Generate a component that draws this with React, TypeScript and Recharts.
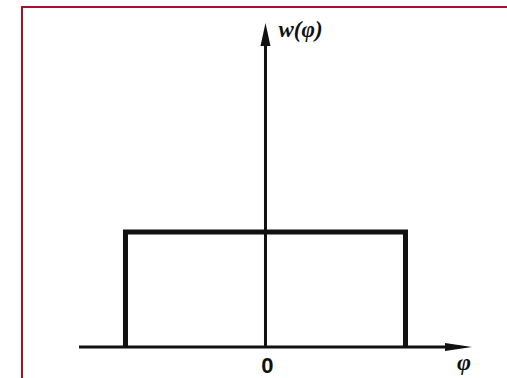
import { LineChart, Line, XAxis, YAxis, ReferenceLine } from 'recharts';

// Uniform density w(φ): rectangle over [-1, 1]
const phiPoints = [-1, -1, 1, 1];
const wPoints = [0, 1, 1, 0];
const xTicks = [0];
const xDomain: [number, number] = [-1.332, 1.475];
const yDomain: [number, number] = [0, 2.817];

const data = phiPoints.map((phi, i) => ({ phi, w: wPoints[i] }));

const INK = '#111';
const LABEL_FONT = '"Liberation Serif", "DejaVu Serif", serif';

function HorizontalAxis(p: any) {
  const left = Math.min(p.x1, p.x2);
  const right = Math.max(p.x1, p.x2);
  const y = p.y1;
  return (
    <g>
      <line x1={left} y1={y} x2={right - 12} y2={y} stroke={INK} strokeWidth={3} />
      <polygon points={`${right},${y} ${right - 27},${y - 4} ${right - 27},${y + 4}`} fill={INK} />
      <text
        x={right - 15}
        y={y + 23}
        fontFamily={LABEL_FONT}
        fontStyle="italic"
        fontWeight="bold"
        fontSize={24}
        fill={INK}
      >
        φ
      </text>
    </g>
  );
}

function VerticalAxis(p: any) {
  const top = Math.min(p.y1, p.y2);
  const bottom = Math.max(p.y1, p.y2);
  const x = p.x1;
  return (
    <g>
      <line x1={x} y1={top + 12} x2={x} y2={bottom} stroke={INK} strokeWidth={3} />
      <polygon points={`${x},${top} ${x - 5},${top + 23} ${x + 5},${top + 23}`} fill={INK} />
      <text
        x={x + 13}
        y={top + 14}
        fontFamily={LABEL_FONT}
        fontStyle="italic"
        fontWeight="bold"
        fontSize={23}
        fill={INK}
      >
        w(φ)
      </text>
    </g>
  );
}

function ZeroTick(p: any) {
  return (
    <text
      x={p.x + 2}
      y={p.y + 18}
      textAnchor="middle"
      fontFamily='"Liberation Sans", Arial, sans-serif'
      fontWeight="bold"
      fontSize={22}
      fill={INK}
    >
      {p.payload.value}
    </text>
  );
}

export default function App() {
  return (
    <div
      style={{
        position: 'fixed',
        left: 0,
        top: 0,
        width: 507,
        height: 378,
        background: '#fff',
        overflow: 'hidden',
      }}
    >
      <div
        style={{
          position: 'absolute',
          left: 21,
          top: 6,
          width: 490,
          height: 380,
          borderTop: '2px solid #b00d2c',
          borderLeft: '2px solid #b00d2c',
        }}
      />
      <div style={{ position: 'absolute', left: 0, top: 0 }}>
        <LineChart
          width={507}
          height={378}
          data={data}
          margin={{ top: 23, right: 35, bottom: 0, left: 79 }}
        >
          <XAxis
            dataKey="phi"
            type="number"
            domain={xDomain}
            ticks={xTicks}
            axisLine={false}
            tickLine={false}
            height={31}
            tick={ZeroTick}
            allowDataOverflow
          />
          <YAxis type="number" domain={yDomain} hide allowDataOverflow />
          <ReferenceLine y={0} shape={HorizontalAxis} />
          <ReferenceLine x={0} shape={VerticalAxis} />
          <Line
            type="linear"
            dataKey="w"
            stroke={INK}
            strokeWidth={5}
            strokeLinejoin="miter"
            strokeLinecap="butt"
            dot={false}
            activeDot={false}
            isAnimationActive={false}
          />
        </LineChart>
      </div>
    </div>
  );
}
